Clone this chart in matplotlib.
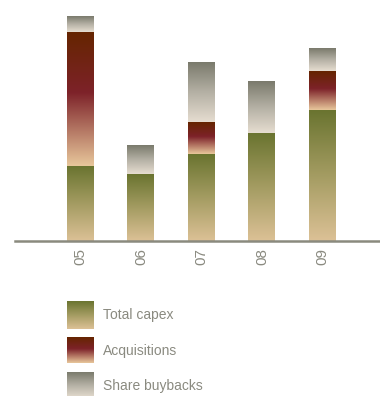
import matplotlib

matplotlib.use("Agg")
import matplotlib.pyplot as plt
import numpy as np
from matplotlib.colors import LinearSegmentedColormap

years = ["05", "06", "07", "08", "09"]
capex = [75, 67, 87, 108, 131]
acquisitions = [134, 0, 32, 0, 39]
buybacks = [16, 29, 60, 52, 23]
series_names = ["Total capex", "Acquisitions", "Share buybacks"]

# gradients run from the bottom (light) to the top (dark) of each segment
cmaps = [
    LinearSegmentedColormap.from_list("capex", ["#dcc196", "#a49c62", "#6a7430"]),
    LinearSegmentedColormap.from_list(
        "acq", [(0, "#e8c79b"), (0.55, "#7d2229"), (1, "#652500")]),
    LinearSegmentedColormap.from_list("buy", ["#e6ddd0", "#b4b0a4", "#7a7a6c"]),
]
grad = np.linspace(0, 1, 256).reshape(-1, 1)

fig = plt.figure(figsize=(3.8, 3.96), dpi=100)
ax = fig.add_axes([15 / 380, 1 - 241 / 396, 365 / 380, 241 / 396])

x = np.arange(len(years))
bottom = np.zeros(len(years))
for vals, cmap in zip([capex, acquisitions, buybacks], cmaps):
    bars = ax.bar(x, vals, width=0.445, bottom=bottom, color="none",
                  edgecolor="none")
    for b in bars:
        if b.get_height() <= 0:
            continue
        x0, y0 = b.get_x(), b.get_y()
        ax.imshow(grad, cmap=cmap, origin="lower", aspect="auto",
                  extent=[x0, x0 + b.get_width(), y0, y0 + b.get_height()],
                  interpolation="bilinear", zorder=2)
    bottom += np.array(vals)

ax.set_xlim(-1.08, 4.95)
ax.set_ylim(0, 241)
for s in ["top", "right", "left"]:
    ax.spines[s].set_visible(False)
ax.spines["bottom"].set_color("#8a8a7e")
ax.spines["bottom"].set_linewidth(1.8)
ax.set_yticks([])
ax.set_xticks(x)
ax.set_xticklabels(years, rotation=90, color="#8a8a80", fontsize=11,
                   family="Liberation Sans")
ax.tick_params(axis="x", length=0, pad=5)

# legend drawn by hand with gradient swatches
leg = fig.add_axes([0, 0, 1, 1 - 290 / 396])
rows = [(11, 39), (47, 73), (82, 108)]
for (top, bot), cmap, name in zip(rows, cmaps, series_names):
    leg.imshow(grad, cmap=cmap, origin="lower", aspect="auto",
               extent=[67, 94, bot, top], interpolation="bilinear")
    leg.text(103, top + 14, name, va="center", ha="left",
             fontsize=10, color="#8a8a80", family="Liberation Sans")
leg.set_xlim(0, 380)
leg.set_ylim(106, 0)
leg.axis("off")

fig.savefig("out.png", dpi=100, facecolor="white")
